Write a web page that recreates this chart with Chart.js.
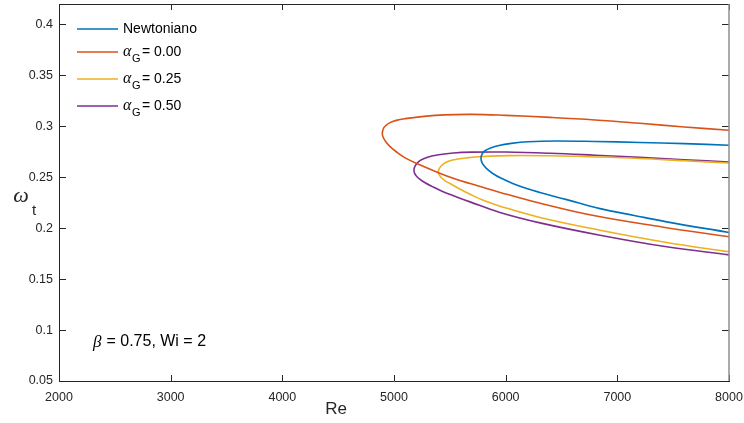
<!DOCTYPE html>
<html>
<head>
<meta charset="utf-8">
<script src="https://cdn.jsdelivr.net/npm/chart.js@4.4.1/dist/chart.umd.min.js"></script>
<style>
  html, body { margin: 0; padding: 0; background: #fff; }
  #wrap { width: 744px; height: 423px; }
</style>
</head>
<body>
<div id="wrap"><canvas id="curvas" width="744" height="423"></canvas></div>
<script>
// valores (Re, omega_t), ramo superior -> nariz -> ramo inferior
const reNewt = [8000, 7600, 7200, 6800, 6450, 6200, 6050, 5940, 5865, 5815, 5790, 5779, 5789, 5825, 5881, 5961, 6063, 6188, 6307, 6546, 6845, 7150, 7442, 8000];
const wNewt  = [0.2814, 0.2830, 0.2841, 0.2851, 0.2856, 0.2848, 0.2832, 0.2812, 0.2787, 0.2760, 0.2730, 0.2689, 0.2640, 0.2589, 0.2539, 0.2489, 0.2439, 0.2389, 0.2350, 0.2280, 0.2192, 0.2125, 0.2062, 0.1958];

const reA000 = [8000, 7600, 7200, 6800, 6400, 6000, 5700, 5450, 5250, 5100, 5020, 4960, 4925, 4906, 4895, 4902, 4922, 4960, 5020, 5100, 5230, 5382, 5530, 5681, 5950, 6300, 6800, 7400, 8000];
const wA000  = [0.2961, 0.2993, 0.3029, 0.3062, 0.3087, 0.3107, 0.3117, 0.3112, 0.3095, 0.3075, 0.3058, 0.3033, 0.3005, 0.2980, 0.2928, 0.2895, 0.2855, 0.2805, 0.2750, 0.2690, 0.2622, 0.2552, 0.2490, 0.2438, 0.2351, 0.2247, 0.2121, 0.2012, 0.1915];

const reA025 = [8000, 7600, 7200, 6800, 6400, 6050, 5800, 5650, 5540, 5462, 5418, 5401, 5397, 5403, 5420, 5455, 5501, 5580, 5681, 5800, 5949, 6307, 6845, 7442, 8000];
const wA025  = [0.2640, 0.2662, 0.2684, 0.2699, 0.2710, 0.2712, 0.2703, 0.2690, 0.2672, 0.2645, 0.2605, 0.2575, 0.2552, 0.2527, 0.2500, 0.2467, 0.2438, 0.2390, 0.2333, 0.2273, 0.2216, 0.2105, 0.1980, 0.1860, 0.1768];

const reA050 = [8000, 7600, 7200, 6800, 6400, 6000, 5700, 5531, 5400, 5300, 5235, 5198, 5183, 5179, 5184, 5200, 5230, 5275, 5340, 5430, 5561, 5681, 5949, 6307, 6845, 7442, 8000];
const wA050  = [0.2650, 0.2672, 0.2695, 0.2716, 0.2735, 0.2747, 0.2746, 0.2738, 0.2720, 0.2697, 0.2665, 0.2625, 0.2595, 0.2569, 0.2540, 0.2512, 0.2482, 0.2448, 0.2410, 0.2363, 0.2307, 0.2258, 0.2154, 0.2052, 0.1931, 0.1817, 0.1738];

const xTicks = [2000, 3000, 4000, 5000, 6000, 7000, 8000];
const yTicks = [0.05, 0.1, 0.15, 0.2, 0.25, 0.3, 0.35, 0.4];
const legendNames = ['Newtoniano', '0.00', '0.25', '0.50'];
const cores = ['#0072BD', '#D95319', '#EDB120', '#7E2F8E'];

const fonteSans = "'Liberation Sans', Arial, sans-serif";
const fonteSerif = "'Liberation Serif', 'Times New Roman', serif";

function pares(xs, ys) {
  return xs.map(function (x, i) { return { x: x, y: ys[i] }; });
}

const series = [pares(reNewt, wNewt), pares(reA000, wA000), pares(reA025, wA025), pares(reA050, wA050)];

function semPadding(s) {
  s.paddingLeft = 0;
  s.paddingRight = 0;
  s.paddingTop = 0;
  s.paddingBottom = 0;
}

// eixos em caixa, marcas para dentro, legenda e textos
const decoracao = {
  id: "decoracao",
  afterDraw: function (chart) {
    const ctx = chart.ctx;
    const a = chart.chartArea;
    const sx = chart.scales.x;
    const sy = chart.scales.y;
    ctx.save();

    ctx.strokeStyle = "#262626";
    ctx.lineWidth = 1;
    xTicks.forEach(function (v) {
      const px = Math.round(sx.getPixelForValue(v)) + 0.5;
      ctx.beginPath();
      ctx.moveTo(px, a.bottom); ctx.lineTo(px, a.bottom - 6);
      ctx.moveTo(px, a.top); ctx.lineTo(px, a.top + 6);
      ctx.stroke();
    });
    yTicks.forEach(function (v) {
      const py = Math.round(sy.getPixelForValue(v)) + 0.5;
      ctx.beginPath();
      ctx.moveTo(a.left, py); ctx.lineTo(a.left + 7, py);
      ctx.moveTo(a.right, py); ctx.lineTo(a.right - 7, py);
      ctx.stroke();
    });
    ctx.beginPath();
    ctx.moveTo(a.left, Math.round(a.top) + 0.5);
    ctx.lineTo(a.right, Math.round(a.top) + 0.5);
    ctx.stroke();
    ctx.strokeStyle = "#8f8f8f";
    ctx.lineWidth = 1.5;
    ctx.beginPath();
    ctx.moveTo(a.right, a.top); ctx.lineTo(a.right, a.bottom);
    ctx.stroke();

    // legenda
    const linhasY = [29, 52, 79, 106];
    ctx.textBaseline = "middle";
    ctx.fillStyle = "#000";
    linhasY.forEach(function (y, i) {
      ctx.strokeStyle = cores[i];
      ctx.lineWidth = 1.5;
      ctx.beginPath();
      ctx.moveTo(77, y); ctx.lineTo(118, y);
      ctx.stroke();
      if (i === 0) {
        ctx.font = "14px " + fonteSans;
        ctx.fillText(legendNames[0], 123, y);
      } else {
        ctx.font = "italic 16px " + fonteSerif;
        ctx.fillText("\u03B1", 123, y);
        ctx.font = "11px " + fonteSans;
        ctx.fillText("G", 132, y + 7);
        ctx.font = "14px " + fonteSans;
        ctx.fillText("= " + legendNames[i], 142, y);
      }
    });

    // parametros
    ctx.font = "italic 17px " + fonteSerif;
    ctx.fillText("\u03B2", 93, 343);
    ctx.font = "16px " + fonteSans;
    ctx.fillText(" = 0.75, Wi = 2", 102, 342);

    // titulos dos eixos
    ctx.fillStyle = "#262626";
    ctx.textAlign = "center";
    ctx.font = "17px " + fonteSans;
    ctx.fillText("Re", 336, 409);
    ctx.font = "italic 22px " + fonteSerif;
    ctx.fillText("\u03C9", 21, 196);
    ctx.font = "15px " + fonteSans;
    ctx.fillText("t", 34, 211);

    ctx.restore();
  }
};

document.addEventListener("DOMContentLoaded", function () {
  const ctx = document.getElementById("curvas").getContext("2d");

  new Chart(ctx, {
    type: "scatter",
    data: {
      datasets: series.map(function (d, i) {
        return {
          label: legendNames[i],
          data: d,
          showLine: true,
          borderColor: cores[i],
          backgroundColor: cores[i],
          borderWidth: 1.6,
          pointRadius: 0,
          tension: 0.4,
        };
      }),
    },
    options: {
      responsive: false,
      animation: false,
      layout: { padding: { top: 4, right: 15, left: 0, bottom: 0 } },
      plugins: {
        legend: { display: false },
        tooltip: { enabled: false },
      },
      scales: {
        x: {
          type: "linear",
          min: 2000,
          max: 8000,
          afterBuildTicks: function (s) { s.ticks = xTicks.map(function (v) { return { value: v }; }); },
          afterFit: function (s) { s.height = 42; semPadding(s); },
          ticks: {
            padding: 9,
            color: "#262626",
            font: { family: fonteSans, size: 12.5 },
            maxRotation: 0,
            callback: function (v) { return String(v); },
          },
          grid: { display: false, drawTicks: false, tickLength: 0 },
          border: { display: true, color: "#262626", width: 1 },
        },
        y: {
          type: "linear",
          min: 0.05,
          max: 0.42,
          afterBuildTicks: function (s) { s.ticks = yTicks.map(function (v) { return { value: v }; }); },
          afterFit: function (s) { s.width = 59; semPadding(s); },
          ticks: {
            padding: 6,
            color: "#262626",
            font: { family: fonteSans, size: 12.5 },
            callback: function (v) { return String(+v.toFixed(2)); },
          },
          grid: { display: false, drawTicks: false, tickLength: 0 },
          border: { display: true, color: "#262626", width: 1 },
        },
      },
    },
    plugins: [decoracao],
  });
});
</script>
</body>
</html>
